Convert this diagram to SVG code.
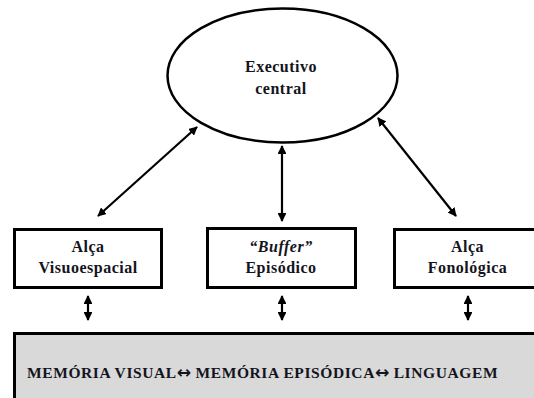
<svg xmlns="http://www.w3.org/2000/svg" width="534" height="398" viewBox="0 0 534 398">
<style>
.t{font-family:"Liberation Serif","Times New Roman",serif;font-weight:bold;font-size:16px;fill:#141420;letter-spacing:0.5px;text-anchor:middle}
.bt{font-family:"Liberation Serif","Times New Roman",serif;font-weight:bold;font-size:15.5px;fill:#141420;letter-spacing:0.6px}
.ar{font-family:"DejaVu Sans",sans-serif;font-weight:bold;font-size:17px;letter-spacing:0}
.box{fill:#fff;stroke:#000;stroke-width:3}
.c{stroke:#000;stroke-width:2.2;fill:none;marker-start:url(#ah);marker-end:url(#ah)}
</style>
<defs>
<marker id="ah" viewBox="0 0 10 10" refX="9" refY="5" markerWidth="4" markerHeight="4" orient="auto-start-reverse" markerUnits="strokeWidth">
<path d="M0,0 L10,5 L0,10 z" fill="#000"/>
</marker>
</defs>
<g id="executivo">
<ellipse cx="282.5" cy="75.5" rx="115" ry="67" fill="#fff" stroke="#000" stroke-width="2.5"/>
<text class="t" x="281" y="72">Executivo</text>
<text class="t" x="281" y="94">central</text>
</g>
<g id="visuoespacial">
<rect class="box" x="14.5" y="229.5" width="147" height="58"/>
<text class="t" x="88" y="252">Alça</text>
<text class="t" x="88" y="273">Visuoespacial</text>
</g>
<g id="buffer">
<rect class="box" x="207.5" y="228.5" width="148" height="59"/>
<text class="t" x="281" y="252"><tspan font-style="italic">“Buffer”</tspan></text>
<text class="t" x="281" y="273">Episódico</text>
</g>
<g id="fonologica">
<rect class="box" x="394.5" y="229.5" width="148" height="58"/>
<text class="t" x="467.5" y="252">Alça</text>
<text class="t" x="467.5" y="273">Fonológica</text>
</g>
<g id="memoria">
<rect x="14.5" y="333.5" width="530" height="80" fill="#d9d9d9" stroke="#000" stroke-width="3"/>
<text class="bt" x="27" y="378">MEMÓRIA VISUAL<tspan class="ar">↔</tspan> MEMÓRIA EPISÓDICA<tspan class="ar">↔</tspan> LINGUAGEM</text>
</g>
<g id="connectors">
<line class="c" x1="197" y1="127" x2="98" y2="216"/>
<line class="c" x1="282" y1="146" x2="282" y2="221"/>
<line class="c" x1="378" y1="118" x2="456" y2="216"/>
<line class="c" x1="88" y1="296" x2="88" y2="320"/>
<line class="c" x1="282" y1="296" x2="282" y2="320"/>
<line class="c" x1="468" y1="296" x2="468" y2="320"/>
</g>
</svg>
